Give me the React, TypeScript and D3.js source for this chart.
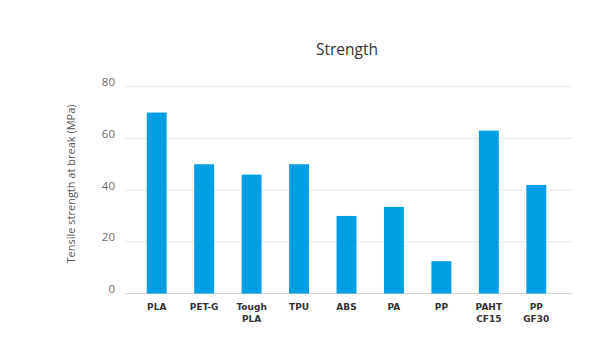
import * as d3 from "d3";

const categories = ["PLA", "PET-G", "Tough PLA", "TPU", "ABS", "PA", "PP", "PAHT CF15", "PP GF30"];
const strength = [70, 50, 46, 50, 30, 33.5, 12.5, 63, 42];
const yTicks = [0, 20, 40, 60, 80];

const width = 600;
const height = 354;
const gridLeft = 125;
const gridRight = 572;

export default function App() {
    const data = categories.map((c, i) => ({ category: c, value: strength[i] }));

    const x = d3.scaleBand<string>()
        .domain(categories)
        .range([133, 560])
        .paddingInner(0.58)
        .paddingOuter(0.29);

    const y = d3.scaleLinear()
        .domain([0, 80])
        .range([293.5, 86.7]);

    return (
        <svg width={width} height={height} style={{ position: "absolute", left: 0, top: 0 }}
            fontFamily="'Open Sans', sans-serif">
            <rect width={width} height={height} fill="#fff" />
            <text x={347} y={55} textAnchor="middle" fontSize={15.5} fill="#333">Strength</text>

            {yTicks.map(t => (
                <g key={t}>
                    <line x1={gridLeft} x2={gridRight} y1={y(t)} y2={y(t)}
                        stroke={t === 0 ? "#d4d4d4" : "#e8e8e8"} strokeWidth={1} />
                    <text x={115} y={y(t)} dy="-0.05em" textAnchor="end" fontSize={11.5} fill="#6a6a6a">{t}</text>
                </g>
            ))}

            <text transform={`translate(75,184) rotate(-90)`} textAnchor="middle" fontSize={11} fill="#555">
                Tensile strength at break (MPa)
            </text>

            {data.map(d => (
                <rect key={d.category}
                    x={x(d.category)}
                    y={y(d.value)}
                    width={x.bandwidth()}
                    height={y(0) - y(d.value)}
                    fill="#009fe3" />
            ))}

            {data.map(d => {
                const words = d.category.split(" ");
                const cx = (x(d.category) ?? 0) + x.bandwidth() / 2;
                return (
                    <text key={d.category} x={cx} y={310} textAnchor="middle"
                        fontFamily="'DejaVu Sans', sans-serif"
                        fontSize={9} fontWeight="bold" fill="#333">
                        {words.map((w, i) => (
                            <tspan key={w} x={cx} dy={i === 0 ? 0 : 12}>{w}</tspan>
                        ))}
                    </text>
                );
            })}
        </svg>
    );
}
